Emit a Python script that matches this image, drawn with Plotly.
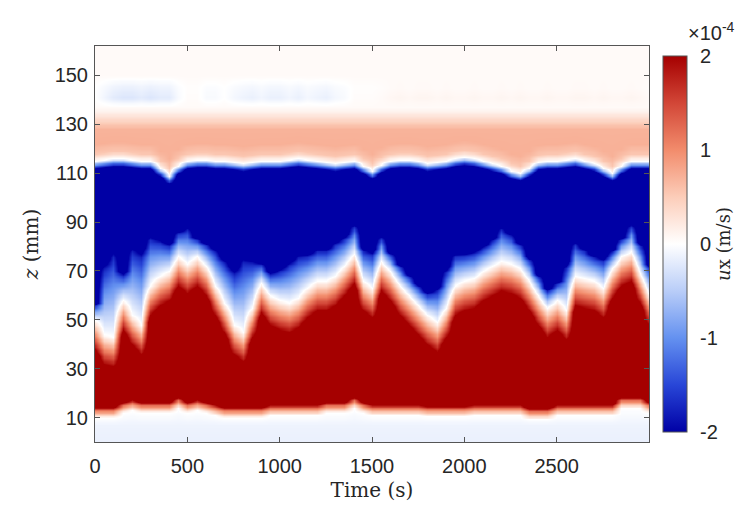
import numpy as np
import plotly.graph_objects as go

# ---- data (50 s sampling) ----
times = list(range(0, 3001, 50))
# zero crossing between lower red layer and blue band (mm)
z_white = [50, 44, 43, 58, 52, 48, 64, 68, 70, 76, 73, 76, 72, 64, 57, 48, 45, 55, 65, 60,
           58, 57, 59, 63, 66, 66, 68, 72, 77, 66, 63, 74, 70, 64, 60, 56, 52, 49, 55, 64,
           66, 67, 70, 72, 74, 73, 71, 66, 60, 55, 58, 54, 68, 67, 66, 63, 71, 76, 78, 69, 60]
# top of light-blue fringe (saturated blue above) (mm)
z_dark = [57, 75, 81, 70, 82, 80, 86, 84, 82, 87, 89, 84, 82, 80, 76, 72, 78, 76, 74, 70,
          72, 75, 78, 78, 80, 80, 83, 85, 90, 80, 79, 85, 78, 73, 69, 65, 62, 64, 72, 78,
          78, 79, 81, 84, 89, 86, 82, 76, 69, 63, 66, 74, 83, 80, 77, 76, 79, 84, 90, 82, 73]
# upper edge of blue band (mm)
z_upper = [115, 115.5, 116, 116, 115.5, 115, 115, 112, 109, 113, 115, 115.5, 115.5, 115, 115, 114.5,
           114, 114.5, 115, 115, 115, 115.5, 116, 115.5, 115, 114.5, 114, 114.5, 115, 113, 111, 113.5,
           115, 115.5, 115.5, 115, 114, 114.5, 115, 116, 116.5, 116, 115, 114, 113, 111, 110, 112,
           114.5, 115, 115, 115.5, 116, 115, 114, 112, 110, 113, 115, 115, 115]
# lower edge of saturated red layer (mm)
z_bot = [15, 15, 15, 17, 18, 17, 17, 17, 17, 19, 17, 18, 17, 16, 15, 15, 15, 15, 15, 16,
         16, 16, 16, 16, 16, 17, 17, 17, 19, 17, 16, 16, 16, 16, 16, 16, 15.5, 15.5, 15.5, 15.5,
         15.5, 16, 16, 16, 16, 16, 16, 14.5, 14.5, 14.5, 16, 16, 16, 16, 16, 16, 16, 19, 19, 19, 17]
# faint value near z = 141 mm (light blue patches)
v_top = [0.0, -0.1, -0.2, -0.25, -0.25, -0.2, -0.25, -0.2, -0.2, -0.05, 0.03, 0.03, -0.05, -0.05, 0.0, -0.08,
         -0.12, -0.15, -0.1, -0.15, -0.15, -0.1, -0.15, -0.08, -0.12, -0.15, -0.08, -0.05, 0.03, 0.03, 0.03, 0.05,
         0.08, 0.1, 0.08, 0.1, 0.1, 0.08, 0.1, 0.08, 0.08, 0.1, 0.08, 0.08, 0.1, 0.08, 0.1, 0.08,
         0.08, 0.1, 0.08, 0.08, 0.1, 0.1, 0.08, 0.1, 0.08, 0.08, 0.1, 0.08, 0.05]

z_grid = np.arange(0, 162.5, 0.5)

field = np.zeros((len(z_grid), len(times)))
for i in range(len(times)):
    zw, zd, zu, zb = z_white[i], z_dark[i], z_upper[i], z_bot[i]
    zd = max(zd, zw + 5)
    zs = [0, 7, zb - 5, zb - 2, zb, zw - 15, zw - 11, zw - 7, zw - 3, zw,
          zw + 0.25 * (zd - zw), zw + 0.55 * (zd - zw), zw + 0.85 * (zd - zw), zd,
          zu - 4, zu, zu + 3, zu + 7, 128, 135, 137, 141, 145, 150, 162.5]
    vs = [-0.15, -0.12, 0.0, 1.2, 2.6, 2.6, 1.8, 1.15, 0.5, 0.0,
          -0.45, -1.0, -1.7, -2.6,
          -2.6, 0.0, 0.55, 0.72, 0.7, 0.15, 0.05, v_top[i], v_top[i] * 0.6, 0.05, 0.05]
    field[:, i] = np.interp(z_grid, zs, vs)

colorscale = [
    [0.0, "rgb(0,0,165)"],
    [0.125, "rgb(40,70,215)"],
    [0.25, "rgb(100,145,240)"],
    [0.375, "rgb(185,205,248)"],
    [0.5, "rgb(255,255,255)"],
    [0.625, "rgb(252,205,185)"],
    [0.75, "rgb(242,140,108)"],
    [0.875, "rgb(210,70,55)"],
    [1.0, "rgb(165,0,0)"],
]

fig = go.Figure(go.Heatmap(
    x=times, y=z_grid, z=field, zmin=-2, zmax=2, zsmooth="best",
    colorscale=colorscale,
    colorbar=dict(
        x=1.0253, xanchor="left", xpad=0, y=0.5, yanchor="middle", len=1, lenmode="fraction",
        thickness=24, outlinewidth=1, outlinecolor="#555555",
        tickvals=[-2, -1, 0, 1, 2], ticktext=["-2", "-1", "0", "1", "2"],
        ticks="outside", ticklen=9, tickcolor="rgba(0,0,0,0)",
        tickfont=dict(family="Liberation Sans", size=20, color="#262626"),
        title=dict(text="<i>u</i>x (m/s)", side="right",
                   font=dict(family="DejaVu Serif", size=18, color="#262626")),
    ),
))

fig.add_annotation(xref="paper", yref="paper", x=1.066, y=1.037, xanchor="left", yanchor="middle",
                   text="×10<sup>-4</sup>", showarrow=False,
                   font=dict(family="Liberation Sans", size=20, color="#262626"))

axis_common = dict(showline=True, linecolor="#555555", linewidth=1, mirror="ticks",
                   ticks="inside", ticklen=5, tickcolor="#555555", showgrid=False, zeroline=False,
                   tickfont=dict(family="Liberation Sans", size=20, color="#262626"))

fig.update_xaxes(range=[0, 3000], tickvals=[0, 500, 1000, 1500, 2000, 2500],
                 ticklabelstandoff=6,
                 title=dict(text="Time (s)", standoff=6,
                            font=dict(family="DejaVu Serif", size=20, color="#262626")),
                 **axis_common)
fig.update_yaxes(range=[0, 162], tickvals=list(range(10, 151, 20)),
                 ticklabelstandoff=2,
                 title=dict(text="<i>z</i> (mm)", standoff=10,
                            font=dict(family="DejaVu Serif", size=20, color="#262626")),
                 **axis_common)

fig.update_layout(width=746, height=512, margin=dict(l=87, r=105, t=38, b=78),
                  paper_bgcolor="white", plot_bgcolor="white")

fig.write_html("out.html")
